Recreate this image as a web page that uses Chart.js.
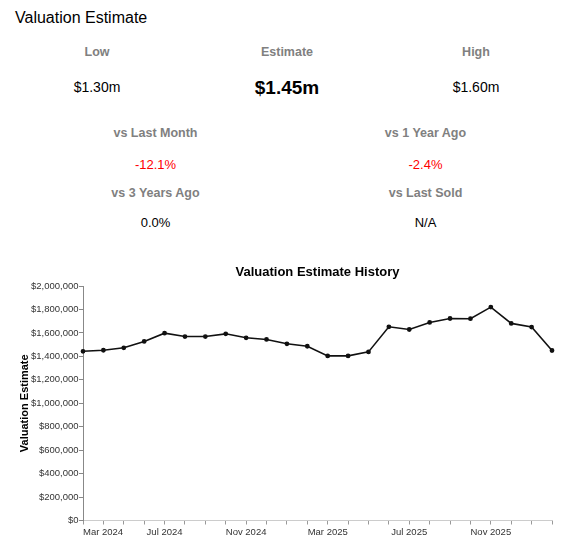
<!DOCTYPE html>
<html>
<head>
<meta charset="utf-8">
<script src="https://cdn.jsdelivr.net/npm/chart.js@4"></script>
<style>
  html, body { margin:0; padding:0; background:#fff; }
  body { width:572px; height:553px; position:relative; overflow:hidden; font-family:"Liberation Sans", Arial, Helvetica, sans-serif; }
  .t { position:absolute; line-height:1; white-space:nowrap; transform:translate(-50%,-50%); }
  .lbl { color:#808080; font-weight:bold; font-size:12.5px; }
  .val { color:#000; font-size:14px; }
  .chg { color:#000; font-size:13px; }
  .neg { color:#ff0000; }
  #head { position:absolute; left:15px; top:17.7px; transform:translateY(-50%); font-size:16px; line-height:1; color:#000; }
  #wrap { position:absolute; left:0; top:250px; width:572px; height:303px; }
</style>
</head>
<body>
<div id="head">Valuation Estimate</div>

<div class="t lbl" style="left:97px; top:52px;">Low</div>
<div class="t lbl" style="left:287px; top:52px;">Estimate</div>
<div class="t lbl" style="left:476px; top:52px;">High</div>
<div class="t val" style="left:97px; top:86.5px;">$1.30m</div>
<div class="t val" style="left:287px; top:87px; font-size:19px; font-weight:bold;">$1.45m</div>
<div class="t val" style="left:476px; top:86.5px;">$1.60m</div>

<div class="t lbl" style="left:155.5px; top:132.5px;">vs Last Month</div>
<div class="t lbl" style="left:425.5px; top:132.5px;">vs 1 Year Ago</div>
<div class="t chg neg" style="left:155.5px; top:163.5px;">-12.1%</div>
<div class="t chg neg" style="left:425.5px; top:163.5px;">-2.4%</div>
<div class="t lbl" style="left:155.5px; top:192.5px;">vs 3 Years Ago</div>
<div class="t lbl" style="left:425.5px; top:192.5px;">vs Last Sold</div>
<div class="t chg" style="left:155.5px; top:221.7px;">0.0%</div>
<div class="t chg" style="left:425.5px; top:221.7px;">N/A</div>

<div id="wrap"><canvas id="c"></canvas></div>

<script>
const months = ["Mar 2024","Apr 2024","May 2024","Jun 2024","Jul 2024","Aug 2024","Sep 2024","Oct 2024","Nov 2024","Dec 2024",
                "Jan 2025","Feb 2025","Mar 2025","Apr 2025","May 2025","Jun 2025","Jul 2025","Aug 2025","Sep 2025","Oct 2025",
                "Nov 2025","Dec 2025","Jan 2026","Feb 2026"];
const valuations = [1443000,1452000,1473000,1527000,1598000,1569000,1569000,1592000,1558000,1544000,
                    1507000,1486000,1404000,1404000,1438000,1652000,1629000,1689000,1723000,1721000,
                    1820000,1681000,1650000,1450000];
const yTicks = [0,200000,400000,600000,800000,1000000,1200000,1400000,1600000,1800000,2000000];

Chart.defaults.font.family = '"Liberation Sans", Arial, Helvetica, sans-serif';
Chart.defaults.color = '#333';

const flushFirst = {
  id: 'flushFirst',
  beforeDraw(chart) {
    try {
      const s = chart.scales.x;
      const items = s.getLabelItems(chart.chartArea);
      if (items && items[0] && items[0].options) {
        items[0].options.textAlign = 'left';
      }
    } catch (e) {}
  }
};

new Chart(document.getElementById('c'), {
  type: 'line',
  data: {
    labels: months,
    datasets: [{
      data: valuations,
      borderColor: '#111',
      backgroundColor: '#111',
      borderWidth: 1.6,
      pointRadius: 1.6,
      pointHoverRadius: 2.5,
      tension: 0,
      fill: false
    }]
  },
  options: {
    responsive: true,
    maintainAspectRatio: false,
    animation: false,
    layout: { padding: { left: 0, right: 20, top: 0, bottom: 0 } },
    plugins: {
      legend: { display: false },
      tooltip: { enabled: false },
      title: {
        display: true,
        fullSize: false,
        text: 'Valuation Estimate History',
        color: '#000',
        font: { size: 13, weight: 'bold' },
        padding: { top: 15, bottom: 5.4 }
      }
    },
    scales: {
      x: {
        type: 'category',
        offset: false,
        grid: { drawOnChartArea: false, drawTicks: true, tickLength: 4, color: '#999' },
        border: { color: '#ccc', width: 1 },
        ticks: {
          autoSkip: false,
          maxRotation: 0,
          padding: 2,
          font: { size: 9.5 },
          color: '#333',
          callback: function(v, i) { return (i % 4 === 0) ? months[i] : ''; }
        },
        afterFit: function(s) { s.height = 32.5; }
      },
      y: {
        min: 0,
        max: 2000000,
        afterBuildTicks: function(s) { s.ticks = yTicks.map(v => ({ value: v })); },
        grid: { drawOnChartArea: false, drawTicks: true, tickLength: 4, color: '#888' },
        border: { color: '#888', width: 1 },
        ticks: {
          padding: 0.5,
          font: { size: 9.5 },
          color: '#333',
          callback: function(v) { return '$' + Number(v).toLocaleString('en-US'); }
        },
        title: {
          display: true,
          text: 'Valuation Estimate',
          color: '#000',
          font: { size: 11, weight: 'bold' },
          padding: { top: 18, bottom: 0 }
        },
        afterFit: function(s) { s.width = 83; }
      }
    }
  },
  plugins: [flushFirst]
});
</script>
</body>
</html>
